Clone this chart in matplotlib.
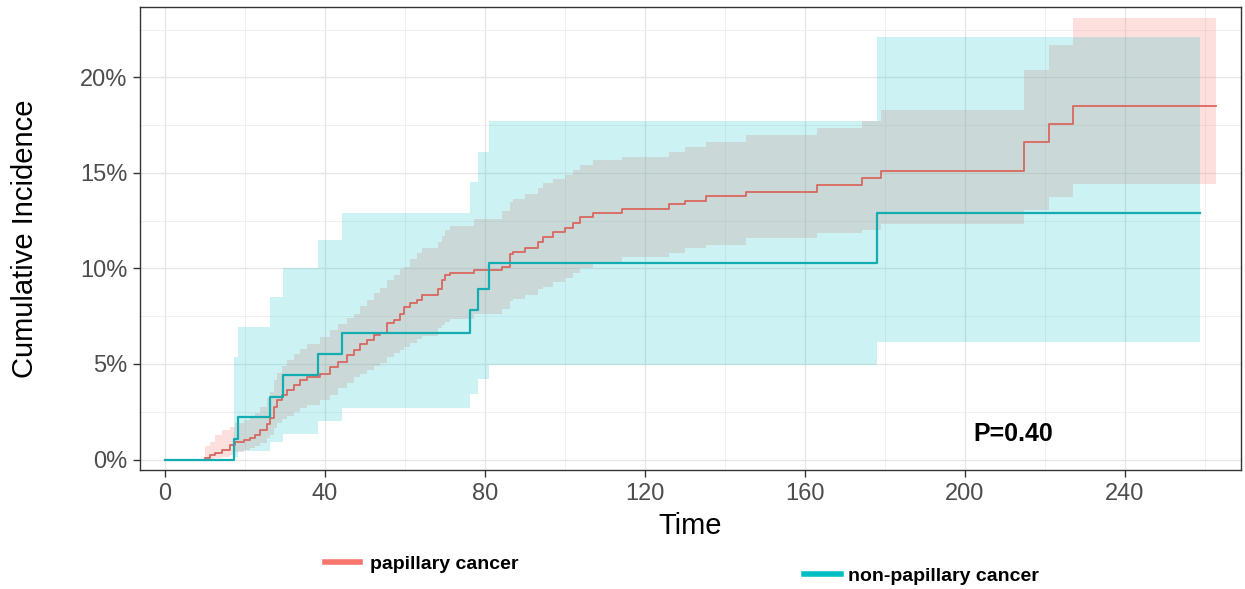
import matplotlib.pyplot as plt
from matplotlib.lines import Line2D
from matplotlib.ticker import MultipleLocator, PercentFormatter

plt.rcParams['font.family'] = ['Liberation Sans', 'DejaVu Sans']

# papillary cancer: step times, cumulative incidence and 95% CI (in %)
pap_time = [10.0, 11.25, 12.5, 14.2, 16.25, 17.5, 19.6, 21.25, 22.5, 23.75,
            25.4, 26.25, 27.1, 27.9, 29.2, 30.4, 32.1, 33.75, 35.4, 38.75,
            41.25, 43.3, 45.4, 47.1, 48.75, 50.4, 52.1, 53.75, 55.4, 57.1,
            58.75, 59.6, 61.25, 62.9, 64.2, 68.3, 69.2, 70.0, 71.25, 77.1,
            84.2, 86.25, 87.1, 90.0, 93.3, 94.6, 97.1, 100.0, 102.1, 103.75,
            107.1, 114.2, 126.1, 130.0, 135.2, 145.25, 163.1, 174.2, 179.0, 214.8,
            221.0, 227.1, 262.75]
pap_est = [0.10, 0.22, 0.35, 0.49, 0.75, 0.92, 1.01, 1.10, 1.27, 1.53,
           1.88, 2.15, 2.75, 3.10, 3.37, 3.63, 3.89, 4.15, 4.32, 4.50,
           4.85, 5.11, 5.46, 5.72, 6.07, 6.28, 6.51, 6.63, 7.12, 7.30,
           7.64, 7.99, 8.17, 8.34, 8.60, 8.95, 9.39, 9.65, 9.77, 9.91,
           10.08, 10.78, 10.87, 11.05, 11.40, 11.65, 11.92, 12.10, 12.36, 12.70,
           12.88, 13.09, 13.35, 13.54, 13.79, 14.01, 14.36, 14.71, 15.09, 16.63,
           17.55, 18.51, 18.51]
pap_low = [0.01, 0.03, 0.06, 0.12, 0.25, 0.40, 0.50, 0.58, 0.70, 0.85,
           1.10, 1.30, 1.65, 1.90, 2.10, 2.30, 2.50, 2.70, 2.85, 3.10,
           3.40, 3.75, 4.00, 4.32, 4.50, 4.70, 4.90, 5.03, 5.37, 5.55,
           5.75, 5.90, 6.10, 6.30, 6.45, 6.90, 7.05, 7.20, 7.35, 7.60,
           7.90, 8.30, 8.40, 8.60, 8.90, 9.05, 9.30, 9.50, 9.75, 10.00,
           10.30, 10.61, 10.82, 11.05, 11.22, 11.57, 11.86, 12.00, 12.32, 13.05,
           13.75, 14.41, 14.41]
pap_high = [0.70, 0.92, 1.30, 1.55, 1.70, 1.90, 2.05, 2.20, 2.45, 2.75,
            3.20, 3.55, 4.15, 4.55, 4.90, 5.20, 5.50, 5.80, 6.05, 6.42,
            6.80, 7.10, 7.40, 7.64, 8.05, 8.35, 8.70, 9.00, 9.39, 9.65,
            9.95, 10.10, 10.50, 10.80, 11.05, 11.40, 11.70, 12.00, 12.20, 12.60,
            13.00, 13.50, 13.65, 13.90, 14.20, 14.45, 14.70, 14.90, 15.15, 15.40,
            15.65, 15.84, 16.10, 16.37, 16.63, 16.98, 17.33, 17.73, 18.29, 20.39,
            21.70, 23.09, 23.09]

# non-papillary cancer
non_time = [0, 17.2, 18.1, 26.25, 29.4, 38.25, 44.3, 76.25, 78.3, 81.1, 178.1, 258.75]
non_est = [0, 1.05, 2.2, 3.28, 4.4, 5.5, 6.6, 7.8, 8.95, 10.26, 12.88, 12.88]
non_low = [0, 0.15, 0.45, 0.92, 1.36, 2.0, 2.67, 3.45, 4.24, 4.94, 6.16, 6.16]
non_high = [0, 5.37, 6.94, 8.5, 10.0, 11.5, 12.9, 14.5, 16.1, 17.7, 22.1, 22.1]

red = '#F8766D'
teal = '#00BFC4'

fig = plt.figure(figsize=(12.45, 5.89), dpi=100)
ax = fig.add_axes([0.1124, 0.202, 0.8844, 0.786])

ax.fill_between(pap_time, pap_low, pap_high, step='post', color=red, alpha=0.22, lw=0)
ax.fill_between(non_time[1:], non_low[1:], non_high[1:], step='post', color=teal, alpha=0.2, lw=0)
ax.step(pap_time, pap_est, where='post', color='#D9675F', lw=1.3)
ax.step(non_time, non_est, where='post', color='#13ADB1', lw=1.6)

ax.text(212, 1.36, 'P=0.40', ha='center', va='center', fontsize=18, fontweight='bold')

ax.set_xlim(-6.3, 269)
ax.set_ylim(-0.55, 23.68)
ax.xaxis.set_major_locator(MultipleLocator(40))
ax.xaxis.set_minor_locator(MultipleLocator(20))
ax.yaxis.set_major_locator(MultipleLocator(5))
ax.yaxis.set_minor_locator(MultipleLocator(2.5))
ax.yaxis.set_major_formatter(PercentFormatter(100, decimals=0))
ax.grid(which='major', color='#E6E6E6', lw=1.0)
ax.grid(which='minor', color='#EEEEEE', lw=0.6)
ax.set_axisbelow(True)
ax.tick_params(which='major', length=5, width=1, color='#333333',
               labelsize=17, labelcolor='#4D4D4D', pad=4)
ax.tick_params(which='minor', length=0)
for s in ax.spines.values():
    s.set_color('#333333')
    s.set_linewidth(1.0)

ax.set_xlabel('Time', fontsize=21)
ax.xaxis.set_label_coords(0.5, -0.09)
fig.text(25 / 1245, 1 - 238.5 / 589, 'Cumulative Incidence', rotation=90,
         ha='center', va='center', fontsize=21)

h1 = Line2D([], [], color=red, lw=4)
h2 = Line2D([], [], color=teal, lw=4)
fig.legend([h1], ['papillary cancer'], loc='center left', bbox_to_anchor=(0.261, 0.0424),
           frameon=False, borderpad=0, borderaxespad=0, handlelength=1.8,
           handletextpad=0.5, prop={'size': 14, 'weight': 'bold'})
fig.legend([h2], ['non-papillary cancer'], loc='center left', bbox_to_anchor=(0.6458, 0.0216),
           frameon=False, borderpad=0, borderaxespad=0, handlelength=1.9,
           handletextpad=0.35, prop={'size': 14, 'weight': 'bold'})

fig.savefig('out.png', dpi=100)
